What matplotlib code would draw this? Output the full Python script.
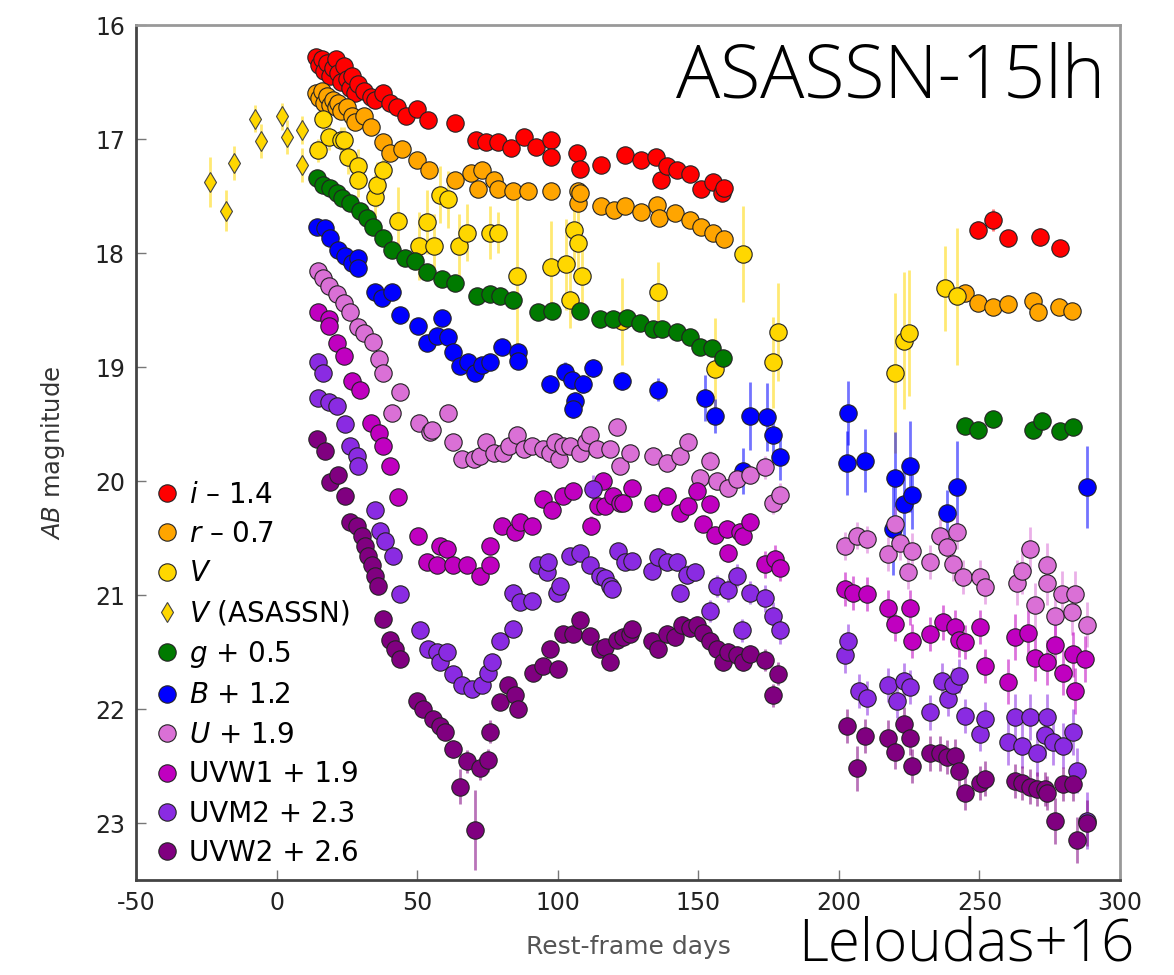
import matplotlib
matplotlib.use("Agg")
import matplotlib.pyplot as plt

# (rest-frame day, AB mag, error) for each band, offsets already applied
i_band = [(14, 16.28, .04), (15, 16.35, .04), (16, 16.30, .04), (17, 16.40, .04), (18, 16.33, .04),
          (19, 16.45, .04), (20, 16.38, .04), (21, 16.30, .04), (22, 16.42, .04), (23, 16.50, .04),
          (24, 16.36, .04), (25, 16.47, .04), (26, 16.55, .04), (27, 16.45, .04), (28, 16.60, .04),
          (29, 16.52, .04), (31, 16.58, .05), (33.6, 16.63, .05), (35, 16.66, .05), (37.7, 16.60, .05),
          (40.4, 16.68, .05), (43, 16.72, .05), (46, 16.80, .05), (50, 16.74, .05), (54, 16.83, .05),
          (63.5, 16.86, .06), (71, 17.01, .05), (74.5, 17.03, .05), (78.6, 17.03, .05), (83.4, 17.08, .05),
          (88, 16.98, .05), (92.2, 17.07, .05), (97.6, 17.01, .05), (97.6, 17.16, .05), (107, 17.12, .05),
          (108, 17.26, .05), (115.3, 17.23, .05), (124, 17.14, .05), (129.5, 17.18, .05), (134.9, 17.16, .06),
          (136.9, 17.36, .05), (138.9, 17.24, .05), (142.3, 17.27, .05), (147, 17.31, .05), (151, 17.44, .05),
          (155.1, 17.38, .06), (158.5, 17.47, .06), (159.2, 17.43, .06),
          (249.4, 17.80, .08), (254.8, 17.71, .1), (260.2, 17.87, .07), (271.6, 17.86, .08), (278.7, 17.96, .07)]

r_band = [(14, 16.60, .03), (15, 16.64, .03), (16, 16.58, .03), (17, 16.68, .03), (18, 16.62, .03),
          (19, 16.70, .03), (20, 16.66, .03), (21, 16.72, .03), (22, 16.68, .03), (23, 16.75, .03),
          (25, 16.72, .03), (27, 16.80, .03), (28, 16.85, .03), (31, 16.80, .04), (33.6, 16.89, .04),
          (37.8, 17.03, .04), (40.4, 17.12, .04), (44.6, 17.09, .04), (50, 17.18, .04), (54.1, 17.27, .04),
          (63.5, 17.36, .04), (69.1, 17.30, .04), (71.7, 17.44, .04), (73.1, 17.27, .04), (77.2, 17.36, .04),
          (78.6, 17.44, .04), (84, 17.46, .04), (89.5, 17.46, .04), (97.6, 17.46, .04), (107.2, 17.46, .04),
          (107.2, 17.56, .04), (108, 17.47, .04), (115.3, 17.59, .04), (120, 17.62, .04), (124.1, 17.59, .04),
          (129.5, 17.64, .04), (135.5, 17.58, .04), (136.2, 17.69, .04), (141.6, 17.65, .04), (147, 17.71, .04),
          (151, 17.77, .04), (155.1, 17.82, .04), (159.2, 17.88, .05),
          (244.7, 18.35, .06), (249.4, 18.44, .06), (254.8, 18.47, .06), (260.2, 18.45, .05),
          (269, 18.42, .06), (270.9, 18.52, .06), (278.3, 18.47, .06), (283, 18.51, .06)]

V_band = [(14.6, 17.10, .10), (16.7, 16.82, .10), (18.7, 16.98, .12), (22.8, 17.01, .12), (24.1, 17.01, .12),
          (25.4, 17.16, .15), (28.9, 17.24, .15), (28.9, 17.36, .15), (35, 17.51, .2), (35.7, 17.40, .2),
          (37.7, 17.27, .2), (43.2, 17.72, .3), (50.7, 17.94, .3), (53.4, 17.73, .28), (56.1, 17.94, .28),
          (58.1, 17.49, .25), (60.9, 17.53, .25), (64.9, 17.94, .28), (67.7, 17.82, .25), (75.9, 17.82, .23),
          (78.6, 17.82, .18), (85.4, 18.20, .75), (97.6, 18.12, .4), (103.1, 18.10, .4), (105.8, 17.80, .3),
          (107.2, 17.91, .3), (108.6, 18.20, .3), (104.4, 18.41, .25), (122.8, 18.60, .38), (135.8, 18.34, .26),
          (156, 19.02, .45), (166, 18.01, .42), (176.7, 18.96, .4), (178.5, 18.69, .43), (220, 19.05, .7),
          (223, 18.77, .6), (225.1, 18.70, .55), (237.8, 18.31, .37), (241.9, 18.38, .6)]

V_asassn = [(-23.5, 17.38, .22), (-18.1, 17.63, .18), (-15.1, 17.21, .15), (-7.5, 16.82, .12),
            (-5.5, 17.02, .15), (2.0, 16.80, .12), (3.6, 16.98, .15), (9.2, 16.92, .12), (9.2, 17.23, .15)]

g_band = [(14.3, 17.34, .03), (16.6, 17.40, .03), (19, 17.43, .03), (21.4, 17.47, .03), (23.2, 17.52, .03),
          (26.1, 17.56, .03), (29.7, 17.63, .03), (32.1, 17.69, .03), (34.4, 17.77, .03), (38, 17.87, .03),
          (41, 17.97, .03), (45.7, 18.04, .04), (49.3, 18.07, .04), (53.4, 18.17, .04), (58.7, 18.23, .04),
          (63.5, 18.26, .04), (71.2, 18.38, .04), (75.9, 18.36, .04), (79.5, 18.38, .04), (84.2, 18.41, .04),
          (93.1, 18.52, .04), (97.9, 18.51, .04), (108, 18.51, .04), (115, 18.58, .04), (119.8, 18.58, .04),
          (124.5, 18.57, .04), (129.3, 18.61, .04), (134, 18.67, .04), (137, 18.67, .04), (142.3, 18.69, .04),
          (147, 18.74, .04), (150.6, 18.82, .04), (154.8, 18.83, .04), (158.9, 18.92, .05),
          (244.9, 19.52, .06), (249.6, 19.55, .06), (255, 19.46, .06), (269.2, 19.55, .06),
          (272.2, 19.47, .06), (278.7, 19.56, .05), (283.4, 19.53, .06)]

B_band = [(14.3, 17.77, .04), (17.2, 17.78, .04), (19, 17.87, .04), (22, 17.97, .04), (24.4, 18.03, .04),
          (26.7, 18.09, .04), (29.1, 18.04, .04), (29.1, 18.13, .04), (35, 18.34, .05), (37.4, 18.39, .05),
          (41, 18.34, .05), (43.9, 18.54, .05), (50.4, 18.64, .06), (53.4, 18.79, .06), (56.9, 18.73, .06),
          (58.7, 18.57, .06), (61.1, 18.74, .06), (62.9, 18.87, .06), (65.3, 18.99, .07), (68.2, 18.96, .07),
          (70.6, 19.05, .07), (73, 18.98, .07), (75.9, 18.96, .07), (80.1, 18.82, .07), (86, 18.87, .07),
          (86, 18.95, .07), (97.3, 19.15, .08), (102.6, 19.04, .08), (105, 19.11, .08), (109.1, 19.15, .08),
          (106.2, 19.30, .08), (105.6, 19.37, .08), (112.6, 19.01, .08), (122.8, 19.12, .08), (135.8, 19.20, .1),
          (152.4, 19.27, .2), (156, 19.43, .15), (168.4, 19.43, .3), (174.3, 19.44, .3), (176.7, 19.60, .2),
          (179.1, 19.79, .2), (166, 19.91, .2), (202.8, 19.84, .28), (203.4, 19.40, .28), (209.3, 19.82, .28),
          (219.4, 20.42, .4), (220, 19.97, .4), (223, 20.20, .3), (225.3, 19.87, .4), (225.9, 20.12, .3),
          (238.4, 20.28, .2), (241.9, 20.05, .4), (288.2, 20.05, .36)]

U_band = [(14.6, 18.16, .04), (16.6, 18.22, .04), (18.7, 18.29, .04), (21.4, 18.36, .04), (24, 18.44, .04),
          (26.2, 18.52, .04), (28.9, 18.65, .04), (31, 18.70, .04), (34.3, 18.78, .04), (36.4, 18.93, .05),
          (37.8, 19.05, .05), (41.2, 19.40, .05), (43.9, 19.22, .05), (50.7, 19.49, .05), (54.6, 19.57, .05),
          (55.4, 19.55, .05), (60.9, 19.40, .05), (62.9, 19.66, .05), (65.9, 19.81, .06), (70.4, 19.81, .06),
          (72.4, 19.78, .06), (74.5, 19.66, .06), (77.2, 19.75, .06), (80.6, 19.75, .06), (82.7, 19.69, .06),
          (85.4, 19.60, .06), (88, 19.72, .06), (90.9, 19.69, .06), (94.9, 19.72, .06), (97.3, 19.75, .06),
          (99, 19.66, .06), (100.3, 19.81, .06), (102, 19.69, .06), (104.4, 19.69, .06), (108, 19.75, .06),
          (109.9, 19.66, .06), (111.5, 19.60, .06), (114, 19.72, .06), (118.6, 19.72, .07), (121, 19.53, .07),
          (122.2, 19.87, .07), (125.7, 19.75, .07), (134, 19.78, .07), (138.8, 19.84, .07), (143.5, 19.78, .07),
          (146.5, 19.66, .07), (150.6, 19.97, .08), (154.2, 19.82, .08), (156.6, 20.00, .08), (160.7, 20.06, .08),
          (163.7, 19.98, .08), (168.4, 19.95, .08), (173.8, 19.88, .1), (176.7, 20.19, .1), (179.1, 20.12, .1),
          (202.2, 20.57, .12), (206.3, 20.48, .12), (209.9, 20.51, .12), (217.6, 20.64, .15), (220, 20.38, .15),
          (221.8, 20.54, .15), (224.7, 20.80, .15), (225.9, 20.61, .15), (232.4, 20.71, .15), (236, 20.48, .15),
          (238.4, 20.58, .15), (240.7, 20.73, .15), (241.9, 20.45, .15), (244.3, 20.84, .15), (250.2, 20.84, .15),
          (252, 20.93, .15), (263.3, 20.89, .2), (265, 20.79, .2), (268, 20.60, .2), (269.8, 21.09, .2),
          (273.9, 20.74, .2), (273.9, 20.89, .2), (276.9, 21.18, .2), (279.3, 20.99, .2), (282.8, 21.15, .2),
          (284, 20.99, .2), (288.2, 21.26, .2)]

UVW1_band = [(14.6, 18.52, .04), (18.7, 18.58, .04), (18.7, 18.64, .04), (21.4, 18.79, .04), (24.1, 18.90, .04),
             (26.8, 19.12, .04), (29.6, 19.20, .04), (33.7, 19.49, .05), (36.4, 19.58, .05), (37.8, 19.69, .05),
             (40.5, 19.87, .05), (43.3, 20.14, .05), (50.4, 20.48, .05), (53.4, 20.71, .06), (56.9, 20.74, .06),
             (58.1, 20.57, .06), (60.5, 20.60, .06), (62.9, 20.74, .06), (67.6, 20.74, .06), (72.4, 20.83, .06),
             (75.9, 20.74, .06), (75.9, 20.57, .06), (80.1, 20.39, .06), (84.8, 20.45, .06), (86.6, 20.36, .06),
             (90.8, 20.39, .06), (94.9, 20.16, .06), (97.9, 20.25, .06), (102, 20.13, .06), (105.5, 20.09, .06),
             (112, 20.39, .08), (114.4, 20.22, .06), (116.2, 20.00, .06), (116.8, 20.22, .06), (119.7, 20.13, .06),
             (122.2, 20.19, .06), (123.3, 20.19, .06), (126.3, 20.06, .06), (134, 20.19, .07), (138.8, 20.13, .07),
             (143.5, 20.28, .07), (146.5, 20.22, .07), (149.4, 20.09, .07), (151.8, 20.38, .07), (154.2, 20.20, .07),
             (156, 20.47, .08), (160.1, 20.42, .08), (160.7, 20.63, .08), (164.9, 20.45, .08), (166, 20.48, .08),
             (168.4, 20.36, .08), (173.8, 20.73, .12), (177.3, 20.68, .12), (179.1, 20.76, .12), (202.2, 20.95, .15),
             (205.2, 20.98, .15), (209.9, 20.99, .15), (217.6, 21.11, .15), (220, 21.25, .15), (225.3, 21.11, .15),
             (225.9, 21.40, .15), (232.4, 21.34, .15), (237.2, 21.24, .15), (241.3, 21.28, .15), (242.6, 21.39, .15),
             (244.9, 21.41, .15), (250.2, 21.28, .15), (252, 21.62, .15), (260.3, 21.76, .2), (262.7, 21.37, .2),
             (267.4, 21.33, .2), (269.8, 21.55, .2), (273.9, 21.59, .2), (276.9, 21.44, .2), (279.8, 21.68, .2),
             (283.4, 21.52, .2), (284, 21.84, .2), (287.6, 21.56, .2)]

UVM2_band = [(14.6, 18.96, .04), (16.6, 19.05, .04), (14.6, 19.27, .04), (18.7, 19.31, .04), (21.4, 19.34, .04),
             (24.4, 19.50, .04), (26.1, 19.69, .04), (28.5, 19.78, .04), (29.1, 19.87, .04), (35, 20.25, .05),
             (36.8, 20.44, .05), (38.6, 20.53, .05), (41.5, 20.66, .05), (43.9, 20.99, .05), (51, 21.31, .06),
             (54, 21.47, .06), (56.9, 21.50, .06), (58.1, 21.59, .06), (60.5, 21.50, .06), (62.9, 21.69, .07),
             (65.9, 21.79, .07), (69.4, 21.82, .07), (73, 21.79, .07), (75.3, 21.68, .07), (76.5, 21.59, .07),
             (79.5, 21.40, .07), (84.2, 21.30, .07), (84.2, 20.98, .07), (86.6, 21.06, .07), (90.8, 21.05, .07),
             (93.1, 20.74, .07), (96.1, 20.80, .07), (96.7, 20.71, .07), (99.7, 20.98, .07), (100.8, 20.92, .07),
             (104.4, 20.66, .07), (108, 20.63, .07), (111.5, 20.74, .07), (112.6, 20.07, .12), (115, 20.83, .07),
             (116.8, 20.85, .07), (118.6, 20.92, .07), (119.2, 20.95, .07), (121.6, 20.61, .07), (124, 20.71, .07),
             (126.3, 20.70, .07), (133.4, 20.79, .08), (135.8, 20.67, .08), (138.8, 20.71, .08), (142.3, 20.71, .08),
             (143.5, 20.98, .08), (145.9, 20.82, .08), (148.9, 20.80, .08), (154.2, 21.14, .1), (156.6, 20.92, .1),
             (160.7, 20.96, .1), (163.7, 20.83, .1), (165.5, 21.31, .1), (168.4, 20.98, .1), (173.8, 21.03, .12),
             (176.7, 21.18, .12), (179.1, 21.31, .12), (202.2, 21.53, .15), (203.4, 21.40, .15), (207.1, 21.84, .15),
             (209.9, 21.90, .15), (217.6, 21.79, .15), (220.6, 21.93, .15), (223, 21.75, .15), (225.3, 21.81, .15),
             (232.4, 22.03, .15), (236.6, 21.75, .15), (238.9, 21.91, .15), (240.7, 21.79, .15), (242.6, 21.71, .15),
             (244.9, 22.06, .15), (250.2, 22.22, .15), (252, 22.09, .15), (260.3, 22.29, .2), (262.7, 22.07, .2),
             (265, 22.32, .2), (268, 22.07, .2), (270.4, 22.39, .2), (273.4, 22.23, .2), (273.9, 22.07, .2),
             (276.3, 22.29, .2), (279.8, 22.32, .2), (283.4, 22.20, .2), (284.6, 22.54, .2), (288.2, 22.98, .25)]

UVW2_band = [(14.3, 19.63, .04), (17.2, 19.74, .04), (19, 20.01, .04), (22, 19.95, .04), (24.4, 20.13, .04),
             (26.1, 20.36, .04), (28.5, 20.39, .04), (30.3, 20.48, .04), (31.5, 20.57, .04), (32.6, 20.66, .04),
             (33.8, 20.74, .04), (35, 20.83, .05), (36.2, 20.92, .05), (38, 21.21, .05), (40.4, 21.39, .05),
             (42.2, 21.47, .05), (43.9, 21.56, .05), (49.9, 21.93, .06), (52.2, 22.00, .06), (55.8, 22.09, .06),
             (58.1, 22.15, .06), (59.9, 22.20, .06), (62.9, 22.35, .08), (65.3, 22.68, .15), (67.6, 22.46, .1),
             (70.6, 23.06, .35), (72.4, 22.52, .1), (75.3, 22.45, .1), (75.9, 22.20, .1), (79.5, 21.94, .07),
             (82.4, 21.79, .07), (84.8, 21.88, .07), (86, 22.00, .07), (91.3, 21.68, .07), (94.9, 21.62, .07),
             (97.3, 21.47, .07), (100.2, 21.65, .07), (102, 21.34, .07), (105.5, 21.34, .07), (108, 21.22, .07),
             (111.5, 21.36, .07), (115, 21.47, .07), (116.8, 21.46, .07), (118.6, 21.59, .07), (121, 21.39, .07),
             (123.3, 21.37, .07), (125.7, 21.34, .07), (126.3, 21.30, .07), (133.4, 21.40, .08), (135.8, 21.47, .08),
             (138.8, 21.34, .08), (141.7, 21.37, .08), (144.1, 21.26, .08), (147, 21.29, .08), (149.4, 21.26, .08),
             (151.8, 21.33, .08), (154.2, 21.40, .08), (156.6, 21.47, .08), (158.9, 21.59, .08), (160.7, 21.50, .08),
             (163.7, 21.53, .08), (166, 21.59, .08), (168.4, 21.52, .08), (173.8, 21.57, .1), (176.7, 21.88, .1),
             (178.5, 21.69, .1), (202.8, 22.15, .15), (206.3, 22.52, .2), (209.3, 22.24, .15), (217.6, 22.25, .15),
             (220, 22.38, .15), (223, 22.13, .15), (225.3, 22.25, .15), (225.9, 22.50, .15), (232.4, 22.39, .15),
             (236, 22.39, .15), (238.4, 22.42, .15), (241.3, 22.41, .15), (242.6, 22.54, .15), (244.9, 22.74, .15),
             (250.2, 22.65, .15), (252, 22.61, .15), (262.7, 22.63, .15), (265, 22.65, .15), (268, 22.68, .15),
             (270.4, 22.70, .15), (273.4, 22.70, .15), (273.9, 22.74, .15), (276.9, 22.98, .2), (279.8, 22.66, .15),
             (283.4, 22.66, .15), (284.6, 23.15, .2), (288.2, 23.00, .2)]

# label, data, colour, marker
bands = [
    (r"$i$ – 1.4", i_band, "#ff0000", "o"),
    (r"$r$ – 0.7", r_band, "#ffa500", "o"),
    (r"$V$", V_band, "#ffd700", "o"),
    (r"$V$ (ASASSN)", V_asassn, "#ffd700", "d"),
    (r"$g$ + 0.5", g_band, "#007a00", "o"),
    (r"$B$ + 1.2", B_band, "#0000ff", "o"),
    (r"$U$ + 1.9", U_band, "#da70d6", "o"),
    ("UVW1 + 1.9", UVW1_band, "#c000c0", "o"),
    ("UVM2 + 2.3", UVM2_band, "#8a2be2", "o"),
    ("UVW2 + 2.6", UVW2_band, "#800080", "o"),
]

plt.rcParams["axes.unicode_minus"] = False
plt.rcParams["mathtext.fontset"] = "dejavusans"

fig = plt.figure(figsize=(11.74, 9.75), dpi=100)
ax = fig.add_axes([0.1158, 0.0974, 0.8382, 0.8769])

# error bars first so they sit behind all markers
for label, data, color, marker in bands:
    x = [d[0] for d in data]
    y = [d[1] for d in data]
    e = [d[2] for d in data]
    ax.errorbar(x, y, yerr=e, fmt="none", ecolor=color, elinewidth=2, alpha=0.55, zorder=1)

for label, data, color, marker in bands:
    x = [d[0] for d in data]
    y = [d[1] for d in data]
    if marker == "d":
        ax.plot(x, y, ls="none", marker="d", ms=10.5, mfc=color, mec="#444444", mew=0.8,
                label=label, zorder=3)
    else:
        ax.plot(x, y, ls="none", marker="o", ms=12.5, mfc=color, mec="#222222", mew=0.8,
                label=label, zorder=3)

ax.set_xlim(-50, 300)
ax.set_ylim(23.5, 16)
ax.set_xticks([-50, 0, 50, 100, 150, 200, 250, 300])
ax.set_yticks([16, 17, 18, 19, 20, 21, 22, 23])
ax.tick_params(direction="in", length=7, width=1, colors="#777777", labelcolor="#222222",
               labelsize=17, pad=8)

for s in ["left", "bottom"]:
    ax.spines[s].set_color("#444444")
    ax.spines[s].set_linewidth(2)
for s in ["top", "right"]:
    ax.spines[s].set_color("#999999")
    ax.spines[s].set_linewidth(2)

ax.set_ylabel(r"$AB$ magnitude", fontsize=17.5, color="#333333", labelpad=20)
ax.set_xlabel("Rest-frame days", fontsize=18, color="#555555", labelpad=14)

ax.legend(loc="upper left", bbox_to_anchor=(0.0, 0.49), frameon=False, fontsize=20,
          handlelength=0.8, handletextpad=0.4, labelspacing=0.41, borderaxespad=0.3,
          numpoints=1, markerscale=1.0)

fig.text(0.941, 0.9, "ASASSN-15lh", fontsize=53, ha="right", va="baseline",
         family=["Open Sans", "DejaVu Sans"], fontweight="light")
fig.text(0.966, 0.001, "Leloudas+16", fontsize=42, ha="right", va="bottom",
         family=["Open Sans", "DejaVu Sans"], fontweight="light")

fig.savefig("out.png", dpi=100)
